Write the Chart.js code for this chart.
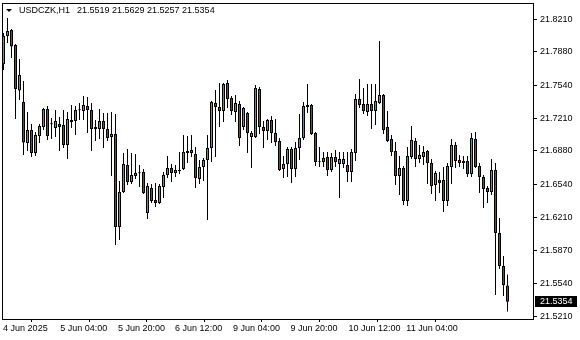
<!DOCTYPE html>
<html>
<head>
<meta charset="utf-8">
<script src="https://cdn.jsdelivr.net/npm/chart.js@4.4.1/dist/chart.umd.min.js"></script>
<style>
  html, body { margin: 0; padding: 0; background: #fff; }
  #wrap { width: 580px; height: 340px; }
</style>
</head>
<body>
<div id="wrap"><canvas id="chart" width="580" height="340"></canvas></div>
<script>
// USDCZK H1 candles
const symbolTitle = 'USDCZK,H1';

const opens = [
  21.7756, 21.8038, 21.8099, 21.7947, 21.7488, 21.7372, 21.6958, 21.7089, 21.6857, 21.7028,
  21.7119, 21.7301, 21.7150, 21.7109, 21.7150, 21.7140, 21.6938, 21.7170, 21.7180, 21.7291,
  21.7281, 21.7331, 21.7291, 21.7119, 21.7099, 21.7180, 21.7099, 21.7018, 21.7049, 21.6109,
  21.6463, 21.6736, 21.6564, 21.6624, 21.6655, 21.6665, 21.6251, 21.6503, 21.6382, 21.6352,
  21.6513, 21.6635, 21.6705, 21.6655, 21.6675, 21.6695, 21.6877, 21.6887, 21.6847, 21.6594,
  21.6715, 21.6786, 21.6907, 21.7362, 21.7321, 21.7281, 21.7564, 21.7413, 21.7271, 21.7352,
  21.7119, 21.7261, 21.7018, 21.7018, 21.7503, 21.7119, 21.7079, 21.7190, 21.7059, 21.6978,
  21.6695, 21.6746, 21.6897, 21.6695, 21.6907, 21.7008, 21.7342, 21.7342, 21.7059, 21.6766,
  21.6766, 21.6816, 21.6685, 21.6816, 21.6746, 21.6746, 21.6736, 21.6665, 21.6857, 21.7403,
  21.7352, 21.7271, 21.7352, 21.7281, 21.7362, 21.7443, 21.7119, 21.6998, 21.6877, 21.6624,
  21.6705, 21.6372, 21.6816, 21.6978, 21.6796, 21.6816, 21.6877, 21.6756, 21.6534, 21.6584,
  21.6584, 21.6372, 21.6715, 21.6938, 21.6786, 21.6756, 21.6776, 21.6645, 21.6998, 21.6725,
  21.6614, 21.6503, 21.6463, 21.6685, 21.6049, 21.5715, 21.5519
];
const highs = [
  21.8069, 21.8220, 21.8109, 21.7958, 21.7806, 21.7584, 21.7271, 21.7150, 21.7069, 21.7150,
  21.7311, 21.7331, 21.7210, 21.7291, 21.7220, 21.7291, 21.7271, 21.7342, 21.7331, 21.7362,
  21.7433, 21.7423, 21.7362, 21.7190, 21.7301, 21.7261, 21.7261, 21.7271, 21.7251, 21.6574,
  21.6857, 21.6897, 21.6857, 21.6847, 21.6736, 21.6695, 21.6554, 21.6544, 21.6554, 21.6544,
  21.6665, 21.6826, 21.6746, 21.6736, 21.6867, 21.7039, 21.7028, 21.7039, 21.6917, 21.6786,
  21.6806, 21.7039, 21.7382, 21.7493, 21.7564, 21.7564, 21.7594, 21.7433, 21.7443, 21.7382,
  21.7321, 21.7271, 21.7079, 21.7544, 21.7523, 21.7180, 21.7200, 21.7230, 21.7200, 21.7008,
  21.6826, 21.6917, 21.6917, 21.6968, 21.7251, 21.7372, 21.7554, 21.7352, 21.7069, 21.6917,
  21.6867, 21.6867, 21.6857, 21.6887, 21.6867, 21.6867, 21.6867, 21.6897, 21.7453, 21.7604,
  21.7513, 21.7554, 21.7554, 21.7554, 21.7988, 21.7453, 21.7281, 21.7039, 21.6968, 21.6826,
  21.6725, 21.6917, 21.7129, 21.7008, 21.6938, 21.6927, 21.6887, 21.6796, 21.6675, 21.6665,
  21.6715, 21.6756, 21.6998, 21.6968, 21.6837, 21.6826, 21.6826, 21.7059, 21.7069, 21.6756,
  21.6635, 21.6523, 21.6796, 21.6756, 21.6200, 21.5816, 21.5629
];
const lows = [
  21.7695, 21.7968, 21.7816, 21.7200, 21.7392, 21.6837, 21.6877, 21.6816, 21.6826, 21.6958,
  21.7089, 21.6988, 21.6998, 21.7018, 21.6877, 21.6907, 21.6796, 21.7109, 21.7039, 21.7190,
  21.7190, 21.7059, 21.6877, 21.6978, 21.6998, 21.6907, 21.6978, 21.6624, 21.5928, 21.5978,
  21.6453, 21.6534, 21.6544, 21.6594, 21.6513, 21.6443, 21.6190, 21.6352, 21.6311, 21.6342,
  21.6402, 21.6604, 21.6564, 21.6614, 21.6645, 21.6685, 21.6756, 21.6816, 21.6503, 21.6544,
  21.6574, 21.6180, 21.6766, 21.6816, 21.7119, 21.7170, 21.7311, 21.7241, 21.7170, 21.6927,
  21.7089, 21.6857, 21.6705, 21.7008, 21.7049, 21.6907, 21.6988, 21.6958, 21.6927, 21.6675,
  21.6604, 21.6614, 21.6554, 21.6614, 21.6786, 21.6988, 21.7261, 21.7039, 21.6725, 21.6715,
  21.6715, 21.6624, 21.6665, 21.6715, 21.6402, 21.6705, 21.6564, 21.6564, 21.6776, 21.7311,
  21.7251, 21.7230, 21.7099, 21.7140, 21.7352, 21.7049, 21.6968, 21.6826, 21.6534, 21.6433,
  21.6331, 21.6321, 21.6796, 21.6715, 21.6756, 21.6736, 21.6544, 21.6443, 21.6372, 21.6453,
  21.6261, 21.6321, 21.6544, 21.6705, 21.6715, 21.6695, 21.6614, 21.6614, 21.6705, 21.6453,
  21.6301, 21.6352, 21.6433, 21.5422, 21.5685, 21.5412, 21.5257
];
const closes = [
  21.8038, 21.8089, 21.7932, 21.7503, 21.7645, 21.6963, 21.7089, 21.6857, 21.7039, 21.7129,
  21.7301, 21.7028, 21.7148, 21.7180, 21.7119, 21.6938, 21.7200, 21.7190, 21.7291, 21.7289,
  21.7342, 21.7291, 21.7099, 21.7099, 21.7180, 21.7099, 21.7008, 21.7049, 21.6109, 21.6463,
  21.6746, 21.6564, 21.6635, 21.6655, 21.6653, 21.6453, 21.6523, 21.6372, 21.6352, 21.6523,
  21.6635, 21.6705, 21.6655, 21.6685, 21.6685, 21.6867, 21.6857, 21.6857, 21.6604, 21.6715,
  21.6786, 21.6907, 21.7372, 21.7321, 21.7281, 21.7554, 21.7403, 21.7281, 21.7362, 21.7008,
  21.7311, 21.7059, 21.7059, 21.7513, 21.7119, 21.7079, 21.7190, 21.7059, 21.6968, 21.6685,
  21.6746, 21.6897, 21.6695, 21.6907, 21.7008, 21.7331, 21.7321, 21.7049, 21.6766, 21.6764,
  21.6806, 21.6685, 21.6816, 21.6766, 21.6796, 21.6796, 21.6665, 21.6867, 21.7403, 21.7342,
  21.7281, 21.7352, 21.7281, 21.7382, 21.7443, 21.7089, 21.6978, 21.6867, 21.6624, 21.6705,
  21.6372, 21.6826, 21.6988, 21.6796, 21.6837, 21.6867, 21.6756, 21.6523, 21.6655, 21.6554,
  21.6372, 21.6725, 21.6938, 21.6776, 21.6756, 21.6776, 21.6645, 21.7008, 21.6715, 21.6614,
  21.6493, 21.6463, 21.6685, 21.6049, 21.5715, 21.5520, 21.5354
];

// time axis: bar position of each label and its text
const xTickPos = [-0.1, 14.2, 28.6, 42.9, 57.35, 71.75, 86.25, 100.7];
const xTickLabels = ['4 Jun 2025', '5 Jun 04:00', '5 Jun 20:00', '6 Jun 12:00', '9 Jun 04:00', '9 Jun 20:00', '10 Jun 12:00', '11 Jun 04:00'];
const yTickValues = [21.8210, 21.7880, 21.7540, 21.7210, 21.6880, 21.6540, 21.6210, 21.5870, 21.5540, 21.5210];

const FONT = '"Liberation Sans", Arial, sans-serif';
const GREEN = '#35b835';
const RED = '#e41818';

const idx = opens.map((_, i) => i);
const bodies = idx.map(i => ({ x: i, y: [opens[i], closes[i]] }));
const wicks = idx.map(i => ({ x: i, y: [lows[i], highs[i]] }));
const bodyColors = idx.map(i => closes[i] >= opens[i] ? GREEN : RED);

const last = idx.length - 1;
const headerText = [opens[last], highs[last], lows[last], closes[last]].map(v => v.toFixed(4)).join(' ');

// frame, header line and current price box, like the terminal draws them
const mtDecor = {
    id: 'mtDecor',
    afterDraw(chart) {
        const ctx = chart.ctx;
        const a = chart.chartArea;
        const ys = chart.scales.y;
        ctx.save();
        ctx.strokeStyle = '#000';
        ctx.lineWidth = 1;
        ctx.strokeRect(a.left + 0.5, a.top + 0.5, a.right - a.left, a.bottom - a.top);

        ctx.fillStyle = '#000';
        ctx.beginPath();
        ctx.moveTo(6, 9);
        ctx.lineTo(12, 9);
        ctx.lineTo(9, 12);
        ctx.closePath();
        ctx.fill();

        ctx.font = '9px ' + FONT;
        ctx.textAlign = 'left';
        ctx.textBaseline = 'middle';
        ctx.fillText(symbolTitle, 19, 11);
        ctx.fillText(headerText, 77, 11);

        const py = ys.getPixelForValue(closes[last]);
        ctx.fillRect(535, Math.round(py) - 6, 42, 11);
        ctx.fillStyle = '#fff';
        ctx.fillText(closes[last].toFixed(4), 540, Math.round(py) - 0.5);
        ctx.restore();
    }
};

// bars are not grouped, so their width is barPercentage of the 4px bar step
new Chart(document.getElementById('chart'), {
    type: 'bar',
    data: {
        datasets: [
            {
                label: 'body',
                data: bodies,
                backgroundColor: bodyColors,
                borderColor: '#000',
                borderWidth: 1,
                borderSkipped: false,
                categoryPercentage: 1,
                barPercentage: 0.75,
                minBarLength: 1,
                inflateAmount: 0,
                grouped: false,
                order: 0
            },
            {
                label: 'wick',
                data: wicks,
                backgroundColor: '#000',
                borderWidth: 0,
                categoryPercentage: 1,
                barPercentage: 0.25,
                inflateAmount: 0,
                grouped: false,
                order: 1
            }
        ]
    },
    options: {
        responsive: false,
        animation: false,
        devicePixelRatio: 1,
        layout: { padding: { top: 3, left: 2, right: 0, bottom: 0 } },
        plugins: { legend: { display: false }, tooltip: { enabled: false } },
        scales: {
            x: {
                type: 'linear',
                min: -0.375,
                max: 132.375,
                offset: false,
                afterBuildTicks: s => { s.ticks = xTickPos.map(v => ({ value: v })); },
                afterFit: s => { s.height = 21; s.paddingLeft = 0; s.paddingRight = 0; },
                grid: { drawOnChartArea: false, drawTicks: true, tickLength: 3, color: '#000' },
                border: { display: false },
                ticks: {
                    autoSkip: false,
                    maxRotation: 0,
                    align: 'start',
                    padding: 1,
                    color: '#000',
                    font: { family: FONT, size: 9 },
                    callback: (v, i) => xTickLabels[i]
                }
            },
            y: {
                position: 'right',
                min: 21.5180,
                max: 21.8372,
                afterBuildTicks: s => { s.ticks = yTickValues.map(v => ({ value: v })); },
                afterFit: s => { s.width = 47; s.paddingTop = 0; s.paddingBottom = 0; },
                grid: { drawOnChartArea: false, drawTicks: true, tickLength: 4, color: '#000' },
                border: { display: false },
                ticks: {
                    padding: 3,
                    color: '#000',
                    font: { family: FONT, size: 9 },
                    callback: v => v.toFixed(4)
                }
            }
        }
    },
    plugins: [mtDecor]
});
</script>
</body>
</html>
